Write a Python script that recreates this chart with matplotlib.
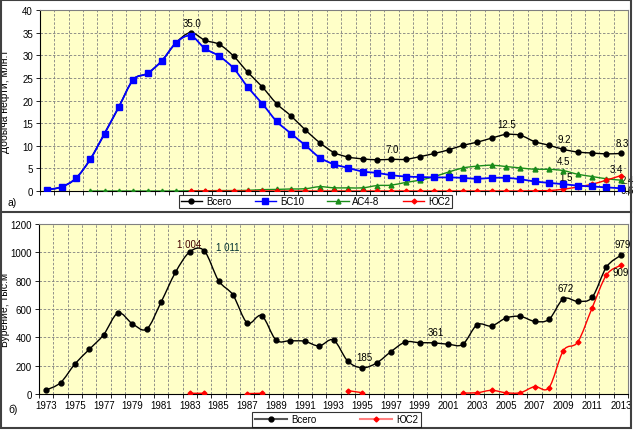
import numpy as np
import matplotlib
matplotlib.use("Agg")
import matplotlib.pyplot as plt
from matplotlib.path import Path
from matplotlib.patches import PathPatch, Rectangle
from matplotlib.lines import Line2D

plt.rcParams['font.family'] = ['Liberation Sans', 'DejaVu Sans']
plt.rcParams['font.size'] = 7

years = list(range(1973, 2014))
nan = np.nan

# oil production, mln t
oil_total = [0.3, 0.9, 2.8, 7.0, 12.7, 18.6, 24.6, 26.0, 28.8, 32.8,
             35.0, 33.3, 32.4, 29.8, 26.2, 23.0, 19.3, 16.6, 13.5, 10.7,
             8.5, 7.5, 7.1, 6.9, 7.0, 7.0, 7.6, 8.3, 9.1, 10.1,
             10.8, 11.7, 12.5, 12.3, 10.9, 10.1, 9.2, 8.6, 8.4, 8.2, 8.3]
oil_bs10 = [0.3, 0.9, 2.8, 7.0, 12.7, 18.6, 24.6, 26.0, 28.8, 32.8,
            34.3, 31.5, 29.8, 27.1, 22.9, 19.3, 15.4, 12.7, 10.1, 7.4,
            5.9, 5.1, 4.3, 4.0, 3.5, 3.2, 3.1, 3.0, 3.0, 2.9,
            2.7, 2.9, 2.9, 2.6, 2.1, 1.8, 1.5, 1.2, 1.0, 0.8, 0.6]
oil_as48 = [nan, nan, nan, 0.0, 0.0, 0.0, 0.0, 0.0, 0.0, 0.0,
            0.05, 0.05, 0.1, 0.1, 0.15, 0.3, 0.35, 0.45, 0.5, 0.95,
            0.7, 0.7, 0.7, 1.2, 1.3, 1.9, 2.4, 3.2, 4.2, 5.1,
            5.5, 5.7, 5.4, 5.1, 4.8, 4.8, 4.5, 3.7, 3.2, 2.7, 2.4]
oil_us2 = [nan] * 10 + [0.0] * 24 + [0.05, 0.1, 0.4, 0.9, 1.5, 2.4, 3.4]

# drilling, thousand m
drill_total = [28, 80, 212, 315, 419, 572, 496, 459, 649, 859,
               1004, 1011, 800, 699, 501, 553, 381, 376, 372, 339,
               381, 231, 185, 219, 299, 367, 362, 361, 351, 351,
               489, 480, 536, 548, 513, 527, 672, 654, 682, 896, 979]
drill_us2 = [nan] * 10 + [5, 5, nan, nan, 3, 5] + [nan] * 5 + [24, 9] + [nan] * 6 + \
            [7, 9, 26, 9, 9, 52, 45, 306, 367, 607, 840, 909]

oil_labels = [(1983, 35.0, '35.0'), (1997, 7.0, '7.0'), (2005, 12.5, '12.5'),
              (2009, 9.2, '9.2'), (2013, 8.3, '8.3')]
drill_labels = [(1995, 185, '185'), (2000, 361, '361'), (2009, 672, '672'), (2013, 979, '979')]


def smooth(ax, x, y, color, lw):
    # excel-style smoothed line: cubic bezier through the points, split at gaps
    x = np.asarray(x, float)
    y = np.asarray(y, float)
    idx = np.where(~np.isnan(y))[0]
    if len(idx) == 0:
        return
    runs = np.split(idx, np.where(np.diff(idx) > 1)[0] + 1)
    for r in runs:
        if len(r) < 2:
            continue
        px, py = x[r], y[r]
        verts = [(px[0], py[0])]
        codes = [Path.MOVETO]
        n = len(px)
        for i in range(n - 1):
            a = max(i - 1, 0)
            b = min(i + 2, n - 1)
            c1 = (px[i] + (px[i + 1] - px[a]) / 6, py[i] + (py[i + 1] - py[a]) / 6)
            c2 = (px[i + 1] - (px[b] - px[i]) / 6, py[i + 1] - (py[b] - py[i]) / 6)
            verts += [c1, c2, (px[i + 1], py[i + 1])]
            codes += [Path.CURVE4] * 3
        ax.add_patch(PathPatch(Path(verts, codes), fill=False, edgecolor=color,
                               lw=lw, zorder=3, capstyle='round', joinstyle='round'))


def style_axes(ax, ymax, ystep, show_labels):
    ax.set_facecolor('#ffffc8')
    ax.set_xlim(1972.5, 2013.5)
    ax.set_ylim(0, ymax)
    ax.set_yticks(np.arange(0, ymax + 1, ystep))
    bounds = np.arange(1972.5, 2014, 1.0)
    ax.set_xticks(bounds)
    ax.set_xticklabels([])
    ax.tick_params(axis='x', which='major', length=3, width=0.6)
    ax.tick_params(axis='y', length=3, width=0.6, pad=2)
    if show_labels:
        ax.set_xticks(years[::2], minor=True)
        ax.set_xticklabels([str(v) for v in years[::2]], minor=True)
        ax.tick_params(axis='x', which='minor', length=0, pad=4)
    ax.grid(True, which='major', color='#808080', ls=(0, (3, 2)), lw=0.6)
    ax.set_axisbelow(True)
    for s in ['top', 'right']:
        ax.spines[s].set_color('#808080')
        ax.spines[s].set_linewidth(0.8)
    for s in ['left', 'bottom']:
        ax.spines[s].set_color('black')
        ax.spines[s].set_linewidth(0.8)


fig = plt.figure(figsize=(6.36, 4.31), dpi=100)
W, H = 636, 431

# --- top: oil production ---
ax1 = fig.add_axes([40 / W, 1 - 192 / H, 588 / W, 181 / H])
style_axes(ax1, 40, 5, False)
series1 = [(oil_total, 'black', 'o', 3.5, 1.0),
           (oil_as48, '#1a8c1a', '^', 3.5, 1.0),
           (oil_us2, '#ff0000', 'D', 2.5, 1.0),
           (oil_bs10, '#0000ff', 's', 4.0, 1.3)]
for vals, c, m, ms, lw in series1:
    smooth(ax1, years, vals, c, lw)
    ax1.plot(years, vals, ls='none', marker=m, ms=ms, color=c, zorder=4)
ax1.set_ylabel('Добыча нефти, млн.т', fontsize=7.5)
ax1.yaxis.set_label_coords(-30 / 588, 0.5)

for x, y, t in oil_labels:
    ax1.annotate(t, (x, y), xytext=(1, 5), textcoords='offset pixels',
                 ha='center', va='bottom')
ax1.annotate('4.5', (2009, 4.5), xytext=(0, 5), textcoords='offset pixels', ha='center', va='bottom')
ax1.annotate('1.5', (2009, 1.5), xytext=(3, 2), textcoords='offset pixels', ha='center', va='bottom')
ax1.annotate('3.4', (2013, 3.4), xytext=(-4, 2), textcoords='offset pixels', ha='center', va='bottom')
ax1.annotate('2.4', (2013, 2.4), xytext=(0, 0), textcoords='offset pixels', ha='left', va='center')
ax1.annotate('0.6', (2013, 0.6), xytext=(0, -2), textcoords='offset pixels', ha='left', va='center')

h1 = [Line2D([], [], color='black', marker='o', ms=3.5, lw=1.0),
      Line2D([], [], color='#0000ff', marker='s', ms=4, lw=1.0),
      Line2D([], [], color='#1a8c1a', marker='^', ms=3.5, lw=1.0),
      Line2D([], [], color='#ff0000', marker='D', ms=2.5, lw=1.0)]
leg1 = fig.legend(h1, ['Всего', 'БС10', 'АС4-8', 'ЮС2'], loc='center', ncol=4,
                  bbox_to_anchor=(315.5 / W, 1 - 202.5 / H), frameon=True, fancybox=False,
                  handlelength=2.2, handletextpad=0.4, columnspacing=2.4,
                  borderpad=0.2, fontsize=7, edgecolor='black')
leg1.get_frame().set_linewidth(0.8)

# --- bottom: drilling ---
ax2 = fig.add_axes([39 / W, 1 - 395 / H, 589 / W, 170 / H])
style_axes(ax2, 1200, 200, True)
smooth(ax2, years, drill_total, 'black', 1.0)
ax2.plot(years, drill_total, ls='none', marker='o', ms=3.5, color='black', zorder=4)
smooth(ax2, years, drill_us2, '#ff0000', 1.0)
ax2.plot(years, drill_us2, ls='none', marker='D', ms=2.5, color='#ff0000', zorder=4)
ax2.set_ylabel('Бурение, тыс.м', fontsize=7.5)
ax2.yaxis.set_label_coords(-29 / 589, 0.5)

for x, y, t in drill_labels:
    ax2.annotate(t, (x, y), xytext=(2, 6), textcoords='offset pixels', ha='center', va='bottom')
ax2.annotate('1 004', (1983, 1004), xytext=(-1, 3), textcoords='offset pixels',
             ha='center', va='bottom', color='#400000')
ax2.annotate('1 011', (1984, 1011), xytext=(24, -1), textcoords='offset pixels',
             ha='center', va='bottom', color='#003030')
ax2.annotate('909', (2013, 909), xytext=(0, -2), textcoords='offset pixels', ha='center', va='top')

h2 = [Line2D([], [], color='#555555', marker='o', mfc='black', mec='black', ms=3.5, lw=1.5),
      Line2D([], [], color='#ff8080', marker='D', mfc='#ff0000', mec='#ff0000', ms=2.5, lw=1.5)]
leg2 = fig.legend(h2, ['Всего', 'ЮС2'], loc='center', ncol=2,
                  bbox_to_anchor=(336.5 / W, 1 - 420.5 / H), frameon=True, fancybox=False,
                  handlelength=3.3, handletextpad=0.4, columnspacing=4.5,
                  borderpad=0.3, fontsize=7, edgecolor='black')
leg2.get_frame().set_linewidth(0.8)

fig.text(8 / W, 1 - 203 / H, 'а)', ha='left', va='center', fontsize=7.5)
fig.text(8 / W, 1 - 410 / H, 'б)', ha='left', va='center', fontsize=7.5)

# outer frame and separator
fig.add_artist(Rectangle((1 / W, 1 - 429 / H), 630 / W, 428 / H, transform=fig.transFigure,
                         fill=False, edgecolor='#404040', lw=1.5))
fig.add_artist(Line2D([1 / W, 631 / W], [1 - 213 / H, 1 - 213 / H], transform=fig.transFigure,
                      color='#404040', lw=1.5))

fig.savefig('out.png', dpi=100)
